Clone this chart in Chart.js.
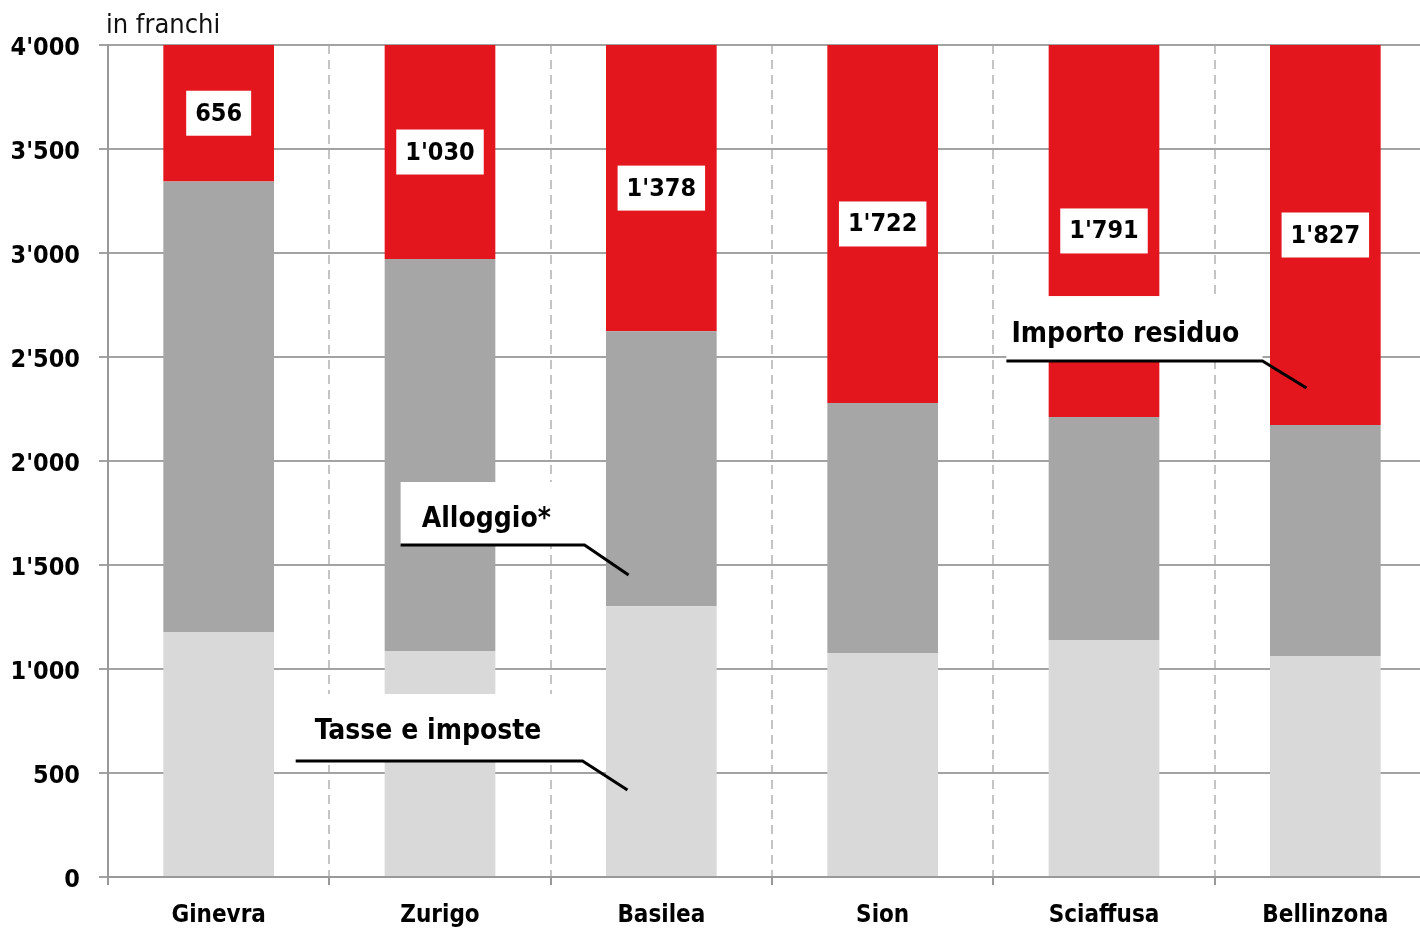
<!DOCTYPE html>
<html lang="it">
<head>
    <meta charset="UTF-8">
    <title>Budget mensile per città</title>
    <script src="https://cdn.jsdelivr.net/npm/chart.js@4.4.3/dist/chart.umd.min.js"></script>
    <style>
        html, body { margin: 0; padding: 0; background: #fff; overflow: hidden; }
        .wrap { position: absolute; left: 0; top: 0; width: 1436px; height: 930px; }
    </style>
</head>
<body>
    <div class="wrap"><canvas id="chart"></canvas></div>
    <script>
        // Dati (in franchi)
        const cities = ['Ginevra', 'Zurigo', 'Basilea', 'Sion', 'Sciaffusa', 'Bellinzona'];
        const tasse = [1178, 1087, 1302, 1077, 1139, 1062];
        const alloggio = [2166, 1884, 1322, 1202, 1073, 1111];
        const residuo = [656, 1030, 1378, 1722, 1791, 1827];
        const yTicks = [0, 500, 1000, 1500, 2000, 2500, 3000, 3500, 4000];

        const FONT = '"DejaVu Sans Condensed", "DejaVu Sans", sans-serif';

        // Etichette con linea di richiamo: x in indici di categoria, y in franchi
        const callouts = [
            { text: 'Tasse e imposte', x0: 0.348, x1: 1.644, x2: 1.847, top: 880, line: 558, end: 418, tx: 0.434, lift: 22 },
            { text: 'Alloggio*', x0: 0.822, x1: 1.653, x2: 1.852, top: 1899, line: 1596, end: 1452, tx: 0.917, lift: 18 },
            { text: 'Importo residuo', x0: 3.559, x1: 4.716, x2: 4.915, top: 2793, line: 2481, end: 2351, tx: 3.582, lift: 19 }
        ];

        const fmt = (n) => String(n).replace(/\B(?=(\d{3})+(?!\d))/g, "'");

        const overlay = {
            id: 'overlay',
            afterDatasetsDraw(chart) {
                const { ctx, chartArea, scales: { x, y } } = chart;
                const step = x.getPixelForValue(1) - x.getPixelForValue(0);
                const px = (i) => x.getPixelForValue(0) + i * step;

                // etichette dei valori sul segmento rosso
                const meta = chart.getDatasetMeta(2);
                ctx.save();
                ctx.font = 'bold 25px ' + FONT;
                ctx.textAlign = 'center';
                ctx.textBaseline = 'middle';
                meta.data.forEach((bar, i) => {
                    const top = Math.max(bar.y, chartArea.top);
                    const cy = (top + bar.base) / 2;
                    const label = fmt(residuo[i]);
                    const w = ctx.measureText(label).width + 18;
                    ctx.fillStyle = '#fff';
                    ctx.fillRect(bar.x - w / 2, cy - 22.5, w, 45);
                    ctx.fillStyle = '#000';
                    ctx.fillText(label, bar.x, cy + 1);
                });

                // richiami
                ctx.font = 'bold 28px ' + FONT;
                ctx.textAlign = 'left';
                ctx.textBaseline = 'alphabetic';
                callouts.forEach(c => {
                    const l = px(c.x0), r = px(c.x1);
                    const t = y.getPixelForValue(c.top), ly = y.getPixelForValue(c.line);
                    ctx.fillStyle = '#fff';
                    ctx.fillRect(l, t, r - l, ly - t);
                    ctx.fillStyle = '#000';
                    ctx.fillText(c.text, px(c.tx), ly - c.lift);
                    ctx.strokeStyle = '#000';
                    ctx.lineWidth = 3;
                    ctx.beginPath();
                    ctx.moveTo(l, ly);
                    ctx.lineTo(r, ly);
                    ctx.lineTo(px(c.x2), y.getPixelForValue(c.end));
                    ctx.stroke();
                });

                // titolo dell'asse
                ctx.font = '27px ' + FONT;
                ctx.fillStyle = '#111';
                ctx.fillText('in franchi', 106, 33);
                ctx.restore();
            }
        };

        new Chart(document.getElementById('chart'), {
            type: 'bar',
            data: {
                labels: cities,
                datasets: [
                    { label: 'Tasse e imposte', data: tasse, backgroundColor: '#d9d9d9' },
                    { label: 'Alloggio*', data: alloggio, backgroundColor: '#a6a6a6' },
                    { label: 'Importo residuo', data: residuo, backgroundColor: '#e3161d' }
                ]
            },
            options: {
                responsive: true,
                maintainAspectRatio: false,
                animation: false,
                layout: { padding: { top: 45, left: 0, right: 0, bottom: 0 } },
                datasets: { bar: { categoryPercentage: 1, barPercentage: 0.5, borderWidth: 0 } },
                plugins: { legend: { display: false }, tooltip: { enabled: false } },
                scales: {
                    x: {
                        stacked: true,
                        afterFit: (s) => { s.height = 53; },
                        grid: { offset: true, color: '#c4c4c4', lineWidth: 2, tickLength: 8, tickColor: '#999', tickBorderDash: [] },
                        border: { display: true, color: '#999', width: 2, dash: [9, 6] },
                        ticks: { color: '#000', padding: 16, font: { family: FONT, size: 24, weight: 'bold' } }
                    },
                    y: {
                        stacked: true,
                        min: 0,
                        max: 4000,
                        afterFit: (s) => { s.width = 108; },
                        afterBuildTicks: (s) => { s.ticks = yTicks.map(v => ({ value: v })); },
                        grid: { color: '#a3a3a3', lineWidth: 2, tickLength: 9 },
                        border: { display: true, color: '#999', width: 2 },
                        ticks: {
                            color: '#000',
                            padding: 19,
                            labelOffset: 3,
                            font: { family: FONT, size: 25, weight: 'bold' },
                            callback: (v) => fmt(v)
                        }
                    }
                }
            },
            plugins: [overlay]
        });
    </script>
</body>
</html>
